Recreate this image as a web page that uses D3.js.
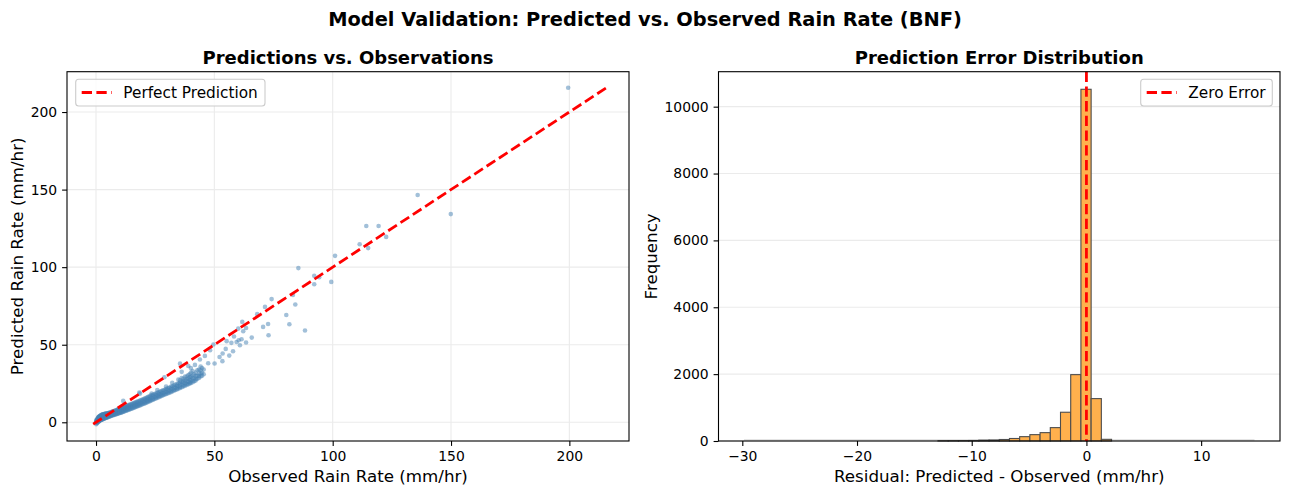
<!DOCTYPE html>
<html><head><meta charset="utf-8">
<script src="https://cdn.jsdelivr.net/npm/d3@7"></script>
<style>
body{margin:0;background:#fff;}
svg{font-family:"DejaVu Sans",sans-serif;}
</style></head>
<body><svg id="c" width="1289" height="495"></svg>
<script>
// ---------- DATA ----------
const obsRain = [
 0.1,0.1,0.1, 0.3,0.3, 0.5,0.5,0.5, 0.8,0.8,0.8, 1.0,1.0,1.0,1.0, 1.3,1.3,1.3, 1.6,1.6,1.6, 2.0,2.0,2.0,
 2.4,2.4,2.4, 2.8,2.8,2.8, 3.2,3.2,3.2, 3.7,3.7,3.7, 4.2,4.2,4.2, 4.8,4.8,4.8, 5.4,5.4,5.4, 6.0,6.0,6.0,
 6.7,6.7,6.7, 7.4,7.4,7.4, 8.1,8.1,8.1, 8.9,8.9,8.9, 9.7,9.7,9.7, 10.5,10.5,10.5, 11.3,11.3,11.3,
 12.2,12.2,12.2, 11.5, 13.1,13.1,13.1, 14.0,14.0,14.0, 15.0,15.0,15.0, 16.0,16.0,16.0, 17.0,17.0,17.0,
 18.0,18.0,18.0, 18.3, 19.1,19.1,19.1, 20.2,20.2,20.2, 21.3,21.3,21.3, 22.4,22.4,22.4,
 23.5,23.5,23.5,23.5, 24.7,24.7,24.7, 25.9,25.9,25.9,25.9, 27.1,27.1,27.1, 28.3,28.3,28.3, 28.9,
 29.6,29.6,29.6,29.6, 30.9,30.9,30.9, 32.2,32.2,32.2,32.2, 33.5,33.5,33.5, 34.8,34.8,34.8,34.8,
 36.2,36.2,36.2,36.2,36.2, 37.6,37.6,37.6,37.6, 39.0,39.0,39.0,39.0,39.0, 40.1,40.1,40.1,40.1,40.1,
 41.5,41.5,41.5, 42.8,42.8,42.8, 44.2,44.2,44.2,44.2, 45.5,45.5, 35.5, 41.8, 18.6,
 0.2,0.2,0.2, 0.65,0.65,0.65, 0.9,0.9,0.9, 1.15,1.15,1.15,1.15, 1.45,1.45,1.45,1.45, 1.8,1.8,1.8,1.8,
 2.2,2.2,2.2,2.2, 2.6,2.6,2.6,2.6, 3.0,3.0,3.0,3.0, 3.45,3.45,3.45,3.45, 3.95,3.95,3.95,3.95,
 4.5,4.5,4.5,4.5, 5.1,5.1,5.1,5.1, 5.7,5.7,5.7,5.7, 6.35,6.35,6.35,6.35, 7.05,7.05,7.05,7.05,
 7.75,7.75,7.75,7.75, 8.5,8.5,8.5,8.5, 9.3,9.3,9.3,9.3, 10.1,10.1,10.1,10.1, 10.9,10.9,10.9,10.9,
 11.75,11.75,11.75,11.75, 12.65,12.65,12.65,12.65, 13.55,13.55,13.55,13.55, 14.5,14.5,14.5,14.5,
 15.5,15.5,15.5,15.5, 16.5,16.5,16.5,16.5, 17.5,17.5,17.5,17.5, 18.55,18.55,18.55,18.55,
 19.65,19.65,19.65,19.65, 20.75,20.75,20.75,20.75, 21.85,21.85,21.85,21.85, 22.95,22.95,22.95,22.95,
 24.1,24.1,24.1,24.1, 25.3,25.3,25.3,25.3, 26.5,26.5,26.5,26.5, 27.7,27.7,27.7,27.7,
 28.95,28.95,28.95,28.95, 30.25,30.25,30.25,30.25, 31.55,31.55,31.55,31.55, 32.85,32.85,32.85,32.85,
 34.15,34.15,34.15,34.15, 35.5,35.5,35.5,35.5,35.5, 36.9,36.9,36.9,36.9,36.9, 38.3,38.3,38.3,38.3,38.3,
 39.6,39.6,39.6,39.6,39.6, 40.8,40.8,40.8,40.8,40.8, 42.1,42.1,42.1,42.1, 43.5,43.5,43.5,43.5, 44.8,44.8,44.8,
 43.9,46.0,48.2,49.6,47.4,50.1,52.2,53.4,53.5,56.3,57.9,54.8,55.2,57.2,59.4,60.3,61.5,60.8,63.4,58.3,
 62.2,60.1,63.4,61.8,65.8,68.1,70.6,72.7,72.9,71.4,74.2,80.4,81.7,83.2,84.2,88.3,85.5,92.2,94.3,92.2,
 99.4,101.0,111.4,114.2,115.0,119.4,122.6,135.9,149.9,199.5
];
const predRain = [
 -1.2,0.0,0.6, 0.3,1.2, -0.4,0.8,1.8, 0.5,1.5,2.6, 0.2,1.0,2.0,3.2, 0.9,1.9,3.6, 1.2,2.4,4.0, 1.4,2.6,4.4,
 1.7,3.0,4.8, 2.0,3.3,5.0, 2.3,3.6,5.2, 2.6,3.9,5.4, 2.9,4.2,5.6, 3.2,4.5,5.8, 3.6,4.8,6.0, 4.0,5.0,6.3,
 4.3,5.4,6.7, 4.7,5.8,7.1, 5.0,6.2,7.5, 5.4,6.6,8.0, 5.8,7.0,8.5, 6.2,7.5,9.0, 6.7,8.0,9.5,
 7.2,8.5,10.1, 13.8, 7.7,9.0,10.6, 8.2,9.6,11.2, 8.8,10.2,11.8, 9.4,10.8,12.4, 10.0,11.4,13.0,
 10.6,12.0,13.6, 19.2, 11.3,12.7,14.3, 12.0,13.4,15.0, 12.7,14.1,15.8, 13.4,14.8,16.6,
 14.2,15.6,17.4,18.6, 15.0,16.4,18.2, 15.8,17.2,19.0,20.8, 16.6,18.0,19.8, 17.4,18.8,20.6, 29.0,
 18.2,19.6,21.5,23.0, 19.0,20.5,22.3, 19.9,21.4,23.2,25.5, 20.8,22.3,24.1, 21.7,23.2,25.0,27.5,
 22.6,24.2,26.0,28.5,32.5, 23.6,25.2,27.0,29.5, 24.6,26.2,28.2,30.5,36.3, 25.4,27.2,29.5,32.1,35.0,
 26.5,28.5,31.0, 28.0,30.0,33.5, 29.5,31.5,33.5,36.0, 31.0,34.0, 37.8, 37.0, 18.5,
 0.4,1.6,-0.6, 0.2,1.1,2.2, 0.9,2.0,2.9, 0.6,1.5,2.6,3.4, 1.1,2.2,3.0,3.8, 1.3,2.1,3.2,4.2,
 1.6,2.3,3.5,4.6, 1.9,2.6,4.0,4.9, 2.2,2.9,4.3,5.1, 2.4,3.2,4.5,5.3, 2.7,3.5,4.8,5.5,
 3.0,3.8,5.0,5.7, 3.4,4.1,5.3,5.9, 3.8,4.4,5.5,6.1, 4.1,4.7,5.9,6.5, 4.5,5.1,6.2,6.9,
 4.8,5.5,6.6,7.3, 5.2,5.9,7.0,7.8, 5.6,6.3,7.5,8.3, 6.0,6.7,8.0,8.8, 6.4,7.1,8.5,9.3,
 6.9,7.6,9.0,9.8, 7.4,8.1,9.6,10.4, 7.9,8.7,10.1,10.9, 8.5,9.2,10.7,11.5,
 9.1,9.8,11.3,12.1, 9.7,10.4,11.9,12.7, 10.3,11.0,12.5,13.3, 10.9,11.6,13.1,14.0,
 11.6,12.3,13.8,14.7, 12.3,13.0,14.5,15.4, 13.0,13.7,15.2,16.2, 13.8,14.5,16.0,17.0,
 14.6,15.3,16.8,17.8, 15.4,16.1,17.6,18.6, 16.2,16.9,18.4,19.4, 17.0,17.7,19.2,20.2,
 17.8,18.5,20.0,21.0, 18.6,19.3,20.8,21.9, 19.4,20.1,21.7,22.8, 20.3,21.0,22.6,23.7,
 21.2,21.9,23.5,24.6, 22.1,22.8,24.5,25.6,27.0, 23.1,23.8,25.5,26.6,28.0, 24.1,24.8,26.6,27.8,29.5,
 25.0,25.8,27.6,29.0,31.0, 25.8,26.8,28.5,30.2,33.0, 27.0,28.0,29.8,32.0, 28.6,29.8,31.5,34.0, 30.0,32.0,35.0,
 40.5,42.8,46.5,50.1,38.1,37.9,42.1,39.4,44.3,43.0,45.8,47.3,52.3,51.2,51.8,52.9,53.5,49.7,51.4,55.3,
 58.7,60.4,60.8,64.7,54.6,69.7,61.5,63.4,56.1,74.4,79.4,69.2,63.2,82.1,75.9,59.2,99.4,94.4,93.5,89.0,
 90.5,107.3,114.8,126.5,112.3,126.5,119.5,146.5,134.2,215.7
];
const scatterTicks = [0, 50, 100, 150, 200];

const residualRange = [-29.85, 14.65];
const residualCounts = [
 1,0,0,0,0,0,0,0,0,0,
 0,0,0,0,0,0,0,0,0,8,
 10,12,15,25,30,45,75,130,190,250,
 400,860,1985,10520,1268,50,0,0,0,0,
 0,0,0,0,0,0,0,0,0,1
];
const histXTicks = [-30, -20, -10, 0, 10];
const histYTicks = [0, 2000, 4000, 6000, 8000, 10000];

const texts = {
  suptitle: "Model Validation: Predicted vs. Observed Rain Rate (BNF)",
  leftTitle: "Predictions vs. Observations",
  rightTitle: "Prediction Error Distribution",
  leftX: "Observed Rain Rate (mm/hr)",
  leftY: "Predicted Rain Rate (mm/hr)",
  rightX: "Residual: Predicted - Observed (mm/hr)",
  rightY: "Frequency",
  leg1: "Perfect Prediction",
  leg2: "Zero Error"
};

// ---------- DRAW ----------
const svg = d3.select("#c");
const L = {x0: 67, x1: 629, y0: 71.7, y1: 441};
const R = {x0: 718.5, x1: 1280, y0: 71.7, y1: 441};
const tickFont = 13.9, labelFont = 16.7, titleFont = 18;
const gridColor = "#ebebeb";

svg.append("text").attr("x", 645).attr("y", 19).attr("text-anchor", "middle")
  .attr("dominant-baseline", "central").attr("font-weight", "bold").attr("font-size", 19.4)
  .text(texts.suptitle);

// ----- Left scatter -----
const lo = Math.min(d3.min(obsRain), d3.min(predRain));
const hi = Math.max(d3.max(obsRain), d3.max(predRain));
const xs = d3.scaleLinear().domain([-12.26, 225.2]).range([L.x0, L.x1]);
const ys = d3.scaleLinear().domain([-12.06, 226]).range([L.y1, L.y0]);

const gL = svg.append("g");
gL.selectAll(".gx").data(scatterTicks).join("line")
  .attr("x1", d => xs(d)).attr("x2", d => xs(d)).attr("y1", L.y0).attr("y2", L.y1)
  .attr("stroke", gridColor).attr("stroke-width", 1.1);
gL.selectAll(".gy").data(scatterTicks).join("line")
  .attr("y1", d => ys(d)).attr("y2", d => ys(d)).attr("x1", L.x0).attr("x2", L.x1)
  .attr("stroke", gridColor).attr("stroke-width", 1.1);

svg.append("clipPath").attr("id", "clipL").append("rect")
  .attr("x", L.x0).attr("y", L.y0).attr("width", L.x1 - L.x0).attr("height", L.y1 - L.y0);

const pts = obsRain.map((o, i) => [o, predRain[i]]);
gL.append("g").attr("clip-path", "url(#clipL)").selectAll("circle").data(pts).join("circle")
  .attr("cx", d => xs(d[0])).attr("cy", d => ys(d[1])).attr("r", 2.3)
  .attr("fill", "#4682b4").attr("fill-opacity", 0.5);

gL.append("line").attr("x1", xs(lo)).attr("y1", ys(lo)).attr("x2", xs(hi)).attr("y2", ys(hi))
  .attr("stroke", "#ff0000").attr("stroke-width", 2.78).attr("stroke-dasharray", "10.3,4.4");

const axB = d3.axisBottom(xs).tickValues(scatterTicks).tickSize(4.9).tickPadding(4.9).tickFormat(d3.format("d"));
const axLft = d3.axisLeft(ys).tickValues(scatterTicks).tickSize(4.9).tickPadding(4.9).tickFormat(d3.format("d"));
function styleAxis(g){
  g.select(".domain").remove();
  g.selectAll(".tick line").attr("stroke", "#000").attr("stroke-width", 1.1);
  g.selectAll(".tick text").attr("font-size", tickFont).attr("fill", "#000").attr("font-family", "DejaVu Sans");
}
gL.append("g").attr("transform", `translate(0,${L.y1})`).call(axB).call(styleAxis);
gL.append("g").attr("transform", `translate(${L.x0},0)`).call(axLft).call(styleAxis);
gL.append("rect").attr("x", L.x0).attr("y", L.y0).attr("width", L.x1 - L.x0).attr("height", L.y1 - L.y0)
  .attr("fill", "none").attr("stroke", "#000").attr("stroke-width", 1.1);

gL.append("text").attr("x", (L.x0 + L.x1) / 2).attr("y", 57).attr("text-anchor", "middle")
  .attr("dominant-baseline", "central").attr("font-weight", "bold").attr("font-size", titleFont).text(texts.leftTitle);
gL.append("text").attr("x", (L.x0 + L.x1) / 2).attr("y", 476).attr("text-anchor", "middle")
  .attr("dominant-baseline", "central").attr("font-size", labelFont).text(texts.leftX);
gL.append("text").attr("transform", `translate(17,${(L.y0 + L.y1) / 2}) rotate(-90)`).attr("text-anchor", "middle")
  .attr("dominant-baseline", "central").attr("font-size", labelFont).text(texts.leftY);

const lg1 = gL.append("g");
lg1.append("rect").attr("x", 75.7).attr("y", 79.3).attr("width", 189.3).attr("height", 26.7).attr("rx", 3)
  .attr("fill", "#fff").attr("fill-opacity", 0.8).attr("stroke", "#cccccc").attr("stroke-width", 1.1);
lg1.append("line").attr("x1", 81.7).attr("x2", 111.7).attr("y1", 92.5).attr("y2", 92.5)
  .attr("stroke", "#ff0000").attr("stroke-width", 2.78).attr("stroke-dasharray", "10.3,4.4");
lg1.append("text").attr("x", 123.3).attr("y", 92.5).attr("dominant-baseline", "central")
  .attr("font-size", 15.3).text(texts.leg1);

// ----- Right histogram -----
const nb = residualCounts.length;
const bw = (residualRange[1] - residualRange[0]) / nb;
const bins = residualCounts.map((c, i) => ({x0: residualRange[0] + i * bw, x1: residualRange[0] + (i + 1) * bw, c}));
const span = residualRange[1] - residualRange[0];
const hx = d3.scaleLinear().domain([residualRange[0] - 0.05 * span, residualRange[1] + 0.05 * span]).range([R.x0, R.x1]);
const hy = d3.scaleLinear().domain([0, d3.max(residualCounts) * 1.05]).range([R.y1, R.y0]);

const gR = svg.append("g");
gR.selectAll(".gy").data(histYTicks).join("line")
  .attr("y1", d => hy(d)).attr("y2", d => hy(d)).attr("x1", R.x0).attr("x2", R.x1)
  .attr("stroke", gridColor).attr("stroke-width", 1.1);

// zero-height bins still leave an edge line along the baseline
gR.append("line").attr("x1", hx(residualRange[0])).attr("x2", hx(residualRange[1]))
  .attr("y1", hy(0) - 1).attr("y2", hy(0) - 1).attr("stroke", "#c8c8c8").attr("stroke-width", 1);

gR.selectAll("rect.bar").data(bins.filter(d => d.c > 1)).join("rect").attr("class", "bar")
  .attr("x", d => hx(d.x0)).attr("width", d => hx(d.x1) - hx(d.x0))
  .attr("y", d => hy(d.c)).attr("height", d => hy(0) - hy(d.c))
  .attr("fill", "#ffb04d").attr("stroke", "#4d4d4d").attr("stroke-width", 1.1);

gR.append("line").attr("x1", hx(0)).attr("x2", hx(0)).attr("y1", R.y0).attr("y2", R.y1)
  .attr("stroke", "#ff0000").attr("stroke-width", 2.78).attr("stroke-dasharray", "10.3,4.4");

const haxB = d3.axisBottom(hx).tickValues(histXTicks).tickSize(4.9).tickPadding(4.9)
  .tickFormat(d => d < 0 ? "\u2212" + Math.abs(d) : String(d));
const haxL = d3.axisLeft(hy).tickValues(histYTicks).tickSize(4.9).tickPadding(4.9).tickFormat(d3.format("d"));
gR.append("g").attr("transform", `translate(0,${R.y1})`).call(haxB).call(styleAxis);
gR.append("g").attr("transform", `translate(${R.x0},0)`).call(haxL).call(styleAxis);
gR.append("rect").attr("x", R.x0).attr("y", R.y0).attr("width", R.x1 - R.x0).attr("height", R.y1 - R.y0)
  .attr("fill", "none").attr("stroke", "#000").attr("stroke-width", 1.1);

gR.append("text").attr("x", (R.x0 + R.x1) / 2).attr("y", 57).attr("text-anchor", "middle")
  .attr("dominant-baseline", "central").attr("font-weight", "bold").attr("font-size", titleFont).text(texts.rightTitle);
gR.append("text").attr("x", (R.x0 + R.x1) / 2).attr("y", 476).attr("text-anchor", "middle")
  .attr("dominant-baseline", "central").attr("font-size", labelFont).text(texts.rightX);
gR.append("text").attr("transform", `translate(651,${(R.y0 + R.y1) / 2}) rotate(-90)`).attr("text-anchor", "middle")
  .attr("dominant-baseline", "central").attr("font-size", labelFont).text(texts.rightY);

const lg2 = gR.append("g");
lg2.append("rect").attr("x", 1140.7).attr("y", 79.3).attr("width", 131.6).attr("height", 26.7).attr("rx", 3)
  .attr("fill", "#fff").attr("fill-opacity", 0.8).attr("stroke", "#cccccc").attr("stroke-width", 1.1);
lg2.append("line").attr("x1", 1146.7).attr("x2", 1176.7).attr("y1", 92.5).attr("y2", 92.5)
  .attr("stroke", "#ff0000").attr("stroke-width", 2.78).attr("stroke-dasharray", "10.3,4.4");
lg2.append("text").attr("x", 1188.3).attr("y", 92.5).attr("dominant-baseline", "central")
  .attr("font-size", 15.3).text(texts.leg2);
</script></body></html>
